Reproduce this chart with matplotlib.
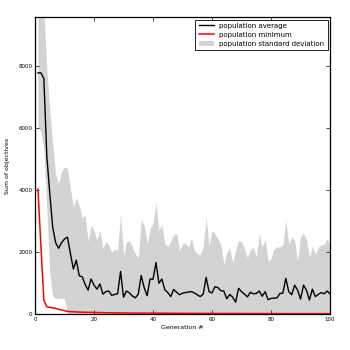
import matplotlib
matplotlib.use("Agg")
import matplotlib.pyplot as plt
import numpy as np

generations = list(range(1, 101))

pop_average = [
    7780, 7780, 7600, 5100, 3900, 2800, 2300, 2120, 2300, 2420,
    2480, 1950, 1450, 1740, 1230, 1200, 950, 770, 1130, 930,
    800, 970, 640, 720, 740, 600, 630, 650, 1370, 540,
    740, 680, 580, 520, 640, 1240, 850, 590, 1130, 1120,
    1660, 990, 1130, 780, 690, 560, 790, 700, 620, 670,
    690, 710, 720, 680, 620, 560, 640, 1180, 720, 680,
    880, 850, 750, 740, 490, 630, 540, 380, 830, 720,
    640, 550, 700, 650, 660, 740, 570, 720, 460, 500,
    510, 520, 660, 670, 1150, 720, 620, 930, 770, 480,
    930, 770, 450, 800, 560, 630, 690, 650, 740, 645,
]

pop_minimum = [
    4030, 2200, 450, 230, 210, 200, 180, 150, 130, 110,
    80, 75, 70, 65, 60, 58, 55, 52, 50, 48,
    46, 44, 42, 40, 38, 36, 35, 34, 33, 32,
    31, 30, 30, 29, 28, 28, 27, 27, 26, 26,
    25, 25, 24, 24, 23, 23, 22, 22, 21, 21,
    20, 20, 20, 19, 19, 19, 18, 18, 18, 17,
    17, 17, 16, 16, 16, 15, 15, 15, 15, 14,
    14, 14, 14, 13, 13, 13, 13, 12, 12, 12,
    12, 12, 11, 11, 11, 11, 11, 10, 10, 10,
    10, 10, 10, 10, 10, 10, 10, 10, 10, 10,
]

std_upper = [
    11000, 10800, 9800, 7900, 6600, 5500, 4500, 4200, 4600, 4750,
    4700, 4050, 3460, 3750, 3500, 3100, 3200, 2330, 2870, 2700,
    2390, 2710, 2120, 2330, 2230, 1980, 2100, 2050, 3250, 1870,
    2330, 2380, 2170, 1940, 1800, 3030, 2870, 2270, 2760, 2920,
    3590, 2700, 2870, 2270, 2170, 2330, 2550, 2600, 2050, 2250,
    2300, 2150, 2450, 2060, 1950, 1900, 2170, 3100, 2200, 2700,
    2580, 2420, 2230, 1600, 1980, 2120, 1650, 2050, 2370, 2330,
    2100, 1810, 2080, 2150, 1850, 2580, 2150, 2420, 1700, 1780,
    2100, 2150, 2170, 2230, 3030, 2250, 2490, 2380, 1700, 2500,
    2600, 2400, 1850, 2170, 1940, 2150, 2230, 2250, 2430, 2230,
]

std_lower = [
    6000, 5900, 5300, 3400, 1300, 600, 500, 500, 500, 500,
] + [0] * 90

fig = plt.figure(figsize=(3.5, 3.5), dpi=100, facecolor="white")
ax = fig.add_axes([0.1, 0.103, 0.843, 0.848])

ax.fill_between(generations, std_lower, std_upper, color="#d3d3d3",
                linewidth=0, label="population standard deviation")
ax.plot(generations, pop_average, color="black", lw=1.0, label="population average")
ax.plot(generations, pop_minimum, color="red", lw=1.1, label="population minimum")

ax.set_xlim(0, 100)
ax.set_ylim(0, 9580)
ax.set_xticks([0, 20, 40, 60, 80, 100])
ax.set_yticks([0, 2000, 4000, 6000, 8000])
ax.tick_params(direction="in", top=True, right=True, labelsize=4, length=3, width=0.5, pad=2)
for s in ax.spines.values():
    s.set_linewidth(0.9)
    s.set_color("black")

ax.set_xlabel("Generation #", fontsize=4.5, labelpad=2)
ax.set_ylabel("Sum of objectives", fontsize=4.5, labelpad=6)

handles, labels = ax.get_legend_handles_labels()
order = [1, 2, 0]
leg = ax.legend([handles[i] for i in order], [labels[i] for i in order],
                loc="upper right", fontsize=5, fancybox=False, framealpha=1,
                borderaxespad=0.35, handlelength=2.2, borderpad=0.45,
                labelspacing=0.45, handletextpad=0.8)
leg.get_frame().set_edgecolor("black")
leg.get_frame().set_linewidth(0.6)

fig.savefig("out.png", dpi=100, facecolor="white")
